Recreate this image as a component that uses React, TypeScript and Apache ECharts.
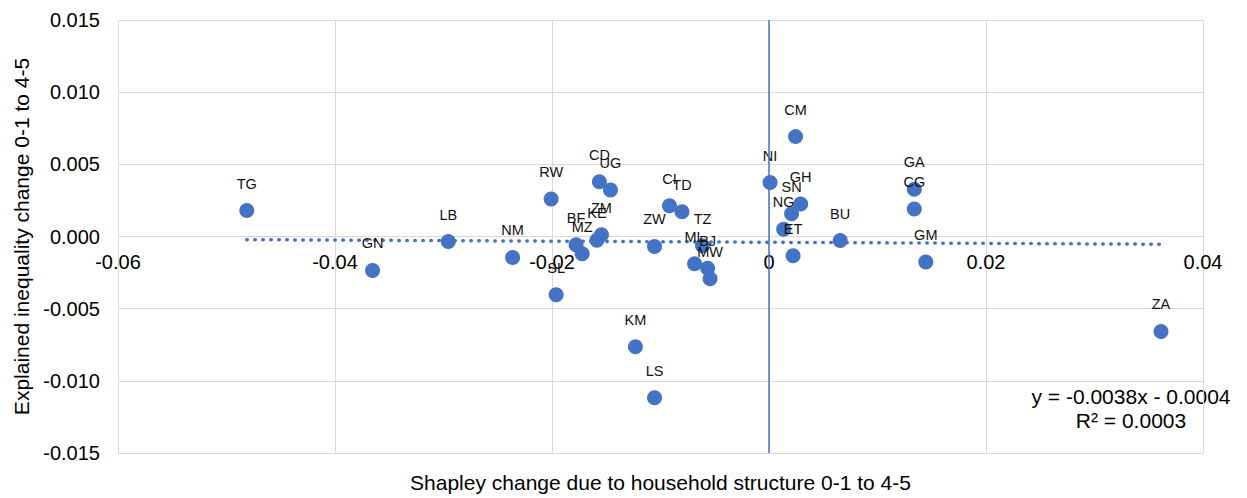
import React, { useEffect, useRef } from "react";
import * as echarts from "echarts";

const countries = ["TG","GN","LB","NM","RW","SL","BF","MZ","KE","ZM","CD","UG","ZW","KM","LS","CI","TD","TZ","ML","BJ","MW","NI","CM","GH","SN","NG","ET","BU","GA","CG","GM","ZA"];
const shapleyChange = [-0.04813,-0.03654,-0.02956,-0.02363,-0.02008,-0.01962,-0.01778,-0.01722,-0.01586,-0.01544,-0.01563,-0.01461,-0.01055,-0.01231,-0.01055,-0.00917,-0.00802,-0.00613,-0.00686,-0.00566,-0.00543,0.0001,0.00245,0.00292,0.00208,0.00135,0.00222,0.00656,0.01339,0.01339,0.01445,0.03613];
const inequalityChange = [0.0018,-0.00235,-0.00035,-0.00145,0.00259,-0.00404,-0.00057,-0.0012,-0.00026,0.00012,0.00379,0.00323,-0.00069,-0.00764,-0.01117,0.00213,0.00171,-0.00064,-0.00189,-0.0022,-0.00293,0.00374,0.00692,0.00226,0.00157,0.0005,-0.00134,-0.00028,0.00327,0.0019,-0.00177,-0.00658];

const trendSlope = -0.0038;
const trendIntercept = -0.0004;
const trendEquation = "y = -0.0038x - 0.0004";
const trendR2 = "R² = 0.0003";

const xTitle = "Shapley change due to household structure 0-1 to 4-5";
const yTitle = "Explained inequality change 0-1 to 4-5";

const FONT = "'Liberation Sans', Arial, sans-serif";
const BLUE = "#4472C4";
const GRID = "#d9d9d9";

const W = 1247;
const H = 498;
const G_TOP = 20;
const G_BOTTOM = 45;
const Y_MIN = -0.015;
const Y_MAX = 0.015;

export default function App() {
  const ref = useRef<HTMLDivElement>(null);
  useEffect(() => {
    document.body.style.margin = "0";
    if (!ref.current) return;
    const chart = echarts.init(ref.current, undefined, { renderer: "svg" });
    const points = countries.map((c, i) => ({ name: c, value: [shapleyChange[i], inequalityChange[i]] }));
    const xmin = Math.min(...shapleyChange);
    const xmax = Math.max(...shapleyChange);
    const trend = [
      [xmin, trendSlope * xmin + trendIntercept],
      [xmax, trendSlope * xmax + trendIntercept],
    ];
    const gridH = H - G_TOP - G_BOTTOM;
    // shift the x axis up so that it crosses the y axis at 0
    const zeroOffset = -gridH * (0 - Y_MIN) / (Y_MAX - Y_MIN);
    chart.setOption({
      animation: false,
      textStyle: { fontFamily: FONT },
      grid: { left: 118, right: 44, top: G_TOP, bottom: G_BOTTOM, containLabel: false, outerBoundsMode: "none" },
      xAxis: {
        type: "value",
        min: -0.06,
        max: 0.04,
        interval: 0.02,
        position: "bottom",
        offset: zeroOffset,
        axisLine: { show: true, onZero: false, lineStyle: { color: GRID, width: 1 } },
        axisTick: { show: false },
        splitLine: { show: true, lineStyle: { color: GRID, width: 1 } },
        axisLabel: {
          color: "#000",
          fontSize: 20,
          fontFamily: FONT,
          margin: 15,
          formatter: (v: number) => String(Math.round(v * 100) / 100),
        },
        name: xTitle,
        nameLocation: "middle",
        nameGap: 235,
        nameTextStyle: { color: "#000", fontSize: 21, fontFamily: FONT },
      },
      yAxis: {
        type: "value",
        min: Y_MIN,
        max: Y_MAX,
        interval: 0.005,
        axisLine: { show: false, onZero: false },
        axisTick: { show: false },
        splitLine: { show: true, lineStyle: { color: GRID, width: 1 } },
        axisLabel: {
          color: "#000",
          fontSize: 20,
          fontFamily: FONT,
          margin: 18,
          formatter: (v: number) => v.toFixed(3),
        },
        name: yTitle,
        nameLocation: "middle",
        nameGap: 86,
        nameTextStyle: { color: "#000", fontSize: 21, fontFamily: FONT },
      },
      series: [
        {
          type: "line",
          data: trend,
          showSymbol: false,
          symbol: "none",
          z: 1,
          lineStyle: { color: BLUE, width: 3.5, type: [0.5, 7.5], cap: "round" },
          silent: true,
        },
        {
          type: "scatter",
          data: points,
          symbolSize: 15,
          z: 3,
          itemStyle: { color: BLUE, opacity: 1 },
          label: {
            show: true,
            position: "top",
            distance: 12,
            formatter: (p: any) => p.name,
            color: "#111",
            fontSize: 14.5,
            fontFamily: FONT,
          },
          markLine: {
            silent: true,
            symbol: "none",
            label: { show: false },
            lineStyle: { color: BLUE, width: 1.5, type: "solid" },
            data: [{ xAxis: 0 }],
          },
        },
      ],
      graphic: [
        {
          type: "text",
          x: 1131,
          y: 384,
          style: {
            text: trendEquation + "\n" + trendR2,
            fill: "#000",
            font: "21px " + FONT,
            align: "center",
            verticalAlign: "top",
            lineHeight: 24,
          },
        },
      ],
    });
    return () => chart.dispose();
  }, []);
  return <div ref={ref} style={{ width: W, height: H }} />;
}
